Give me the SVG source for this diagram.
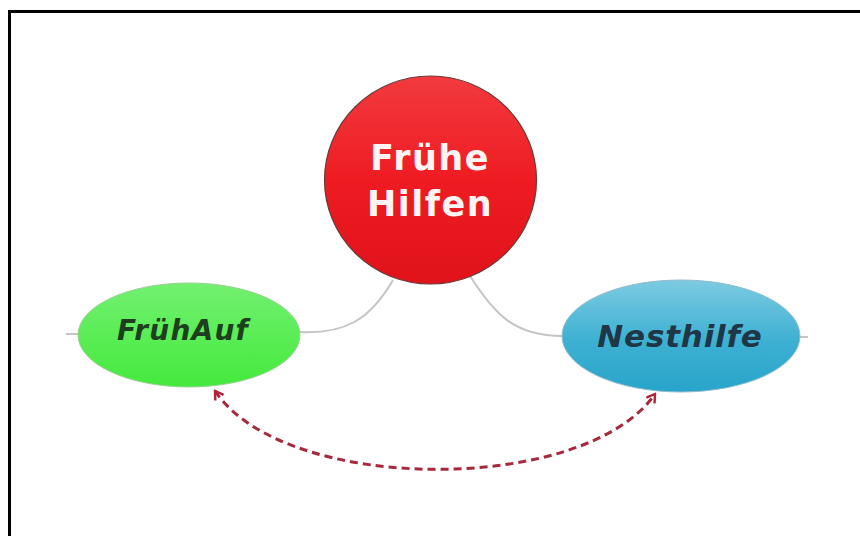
<svg xmlns="http://www.w3.org/2000/svg" width="860" height="536" viewBox="0 0 860 536">
  <defs>
    <linearGradient id="gRed" x1="0" y1="0" x2="0" y2="1">
      <stop offset="0" stop-color="#f23a3e"/>
      <stop offset="0.5" stop-color="#ee1c22"/>
      <stop offset="1" stop-color="#e0121a"/>
    </linearGradient>
    <linearGradient id="gGreen" x1="0" y1="0" x2="0" y2="1">
      <stop offset="0" stop-color="#72f070"/>
      <stop offset="1" stop-color="#44ea3c"/>
    </linearGradient>
    <linearGradient id="gBlue" x1="0" y1="0" x2="0" y2="1">
      <stop offset="0" stop-color="#7ccbe2"/>
      <stop offset="0.55" stop-color="#3db0d2"/>
      <stop offset="1" stop-color="#28a4ca"/>
    </linearGradient>
    <marker id="chev" viewBox="0 0 12 12" refX="10" refY="6" markerWidth="12" markerHeight="12" markerUnits="userSpaceOnUse" orient="auto-start-reverse">
      <path d="M2,1 L10,6 L2,11" fill="none" stroke="#b0243a" stroke-width="2.4"/>
    </marker>
    <style>
      .conn { fill: none; stroke: #c4c4c4; stroke-width: 2; }
      .rel { fill: none; stroke: #a8283c; stroke-width: 3; stroke-dasharray: 8 5; }
      .lbl { font-family: "DejaVu Sans", Verdana, sans-serif; font-weight: bold; text-anchor: middle; }
    </style>
  </defs>

  <rect x="0" y="0" width="860" height="536" fill="#ffffff"/>
  <path d="M9.5,536 L9.5,11.5 L860,11.5" fill="none" stroke="#000000" stroke-width="3"/>

  <g id="connectors">
    <path class="conn" d="M300,332 C345,334 370,320 393,280"/>
    <path class="conn" d="M470,276 C495,315 515,336 562,336"/>
    <path class="conn" d="M66,334 L79,334"/>
    <path class="conn" d="M799,337 L808,337"/>
    <path class="rel" d="M215,391 C285,495 585,495 655,394" marker-start="url(#chev)" marker-end="url(#chev)"/>
  </g>

  <g id="node-fruehe-hilfen">
    <ellipse cx="430.5" cy="180" rx="106" ry="104" fill="url(#gRed)" stroke="#6a3a3a" stroke-width="1.2"/>
    <text class="lbl" x="430" y="170" font-size="35" letter-spacing="1.5" fill="#fff4f4">Frühe</text>
    <text class="lbl" x="430" y="216" font-size="35" letter-spacing="1.5" fill="#fff4f4">Hilfen</text>
  </g>

  <g id="node-fruehauf">
    <ellipse cx="189" cy="335" rx="111" ry="52" fill="url(#gGreen)" stroke="#9ccf96" stroke-width="1"/>
    <text class="lbl" x="183" y="340" font-size="28" letter-spacing="1.2" font-style="italic" fill="#1d3f1d">FrühAuf</text>
  </g>

  <g id="node-nesthilfe">
    <ellipse cx="681" cy="336" rx="119" ry="56" fill="url(#gBlue)" stroke="#8fbccb" stroke-width="1"/>
    <text class="lbl" x="680" y="347" font-size="31" letter-spacing="0.8" font-style="italic" fill="#1e3646">Nesthilfe</text>
  </g>
</svg>
